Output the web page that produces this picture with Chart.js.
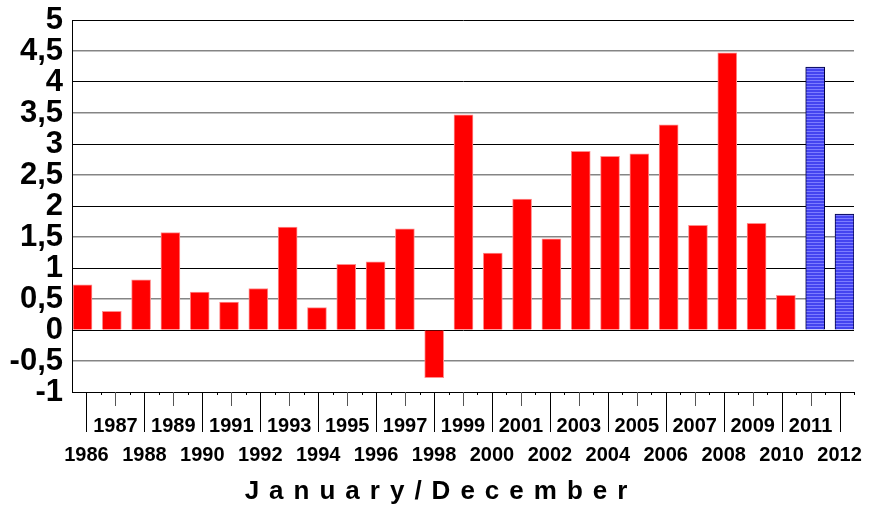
<!DOCTYPE html>
<html>
<head>
<meta charset="utf-8">
<title>January/December</title>
<script src="https://cdn.jsdelivr.net/npm/chart.js@4/dist/chart.umd.min.js"></script>
<style>
  html, body { margin: 0; padding: 0; background: #fff; }
</style>
</head>
<body>
<canvas id="yearChart" width="872" height="508"></canvas>
<script>
// yearly values
const years = ['1986', '1987', '1988', '1989', '1990', '1991', '1992', '1993', '1994',
  '1995', '1996', '1997', '1998', '1999', '2000', '2001', '2002', '2003', '2004',
  '2005', '2006', '2007', '2008', '2009', '2010', '2011', '2012'];
const values = [0.73, 0.30, 0.81, 1.57, 0.61, 0.45, 0.67, 1.66, 0.36,
  1.06, 1.10, 1.63, -0.77, 3.47, 1.24, 2.11, 1.47, 2.88, 2.80,
  2.84, 3.31, 1.69, 4.47, 1.72, 0.56, 4.24, 1.87];
const highlightYears = ['2011', '2012'];
const yTicks = [-1, -0.5, 0, 0.5, 1, 1.5, 2, 2.5, 3, 3.5, 4, 4.5, 5];
const axisTitle = 'January/December';

const FONT = '"Liberation Sans", Arial, sans-serif';
const BAR_MIN = -0.358, BAR_MAX = 26.324;

// striped fill for the last two bars
function stripes() {
  const c = document.createElement('canvas');
  c.width = 4; c.height = 3;
  const g = c.getContext('2d');
  g.fillStyle = '#4444f0';
  g.fillRect(0, 0, 4, 3);
  g.fillStyle = '#7c7cff';
  g.fillRect(0, 2, 4, 1);
  return g.createPattern(c, 'repeat');
}
const stripeFill = stripes();

const isHighlight = i => highlightYears.includes(years[i]);

// tick marks under the axis + the spaced-out title
const axisDecor = {
  id: 'axisDecor',
  afterDraw(chart) {
    const { ctx, chartArea, scales: { x } } = chart;
    const y0 = chartArea.bottom;
    const half = (x.getPixelForValue(1) - x.getPixelForValue(0)) / 2;
    ctx.save();
    ctx.lineWidth = 1;
    years.forEach((yr, i) => {
      const px = Math.round(x.getPixelForValue(i)) + 0.5;
      ctx.strokeStyle = i % 2 ? '#555' : '#000';
      ctx.beginPath();
      ctx.moveTo(px, y0);
      ctx.lineTo(px, y0 + (i % 2 ? 14 : 40));
      ctx.stroke();
      const bx = Math.round(x.getPixelForValue(i) + half) + 0.5;
      ctx.strokeStyle = '#000';
      ctx.beginPath();
      ctx.moveTo(bx, y0);
      ctx.lineTo(bx, y0 + 3);
      ctx.stroke();
    });

    ctx.font = 'bold 26px ' + FONT;
    ctx.letterSpacing = '10px';
    ctx.fillStyle = '#000';
    ctx.textAlign = 'left';
    ctx.textBaseline = 'alphabetic';
    const w = ctx.measureText(axisTitle).width - 10;
    ctx.fillText(axisTitle, chart.width / 2 - w / 2, 499);
    ctx.restore();
  }
};

new Chart(document.getElementById('yearChart'), {
  type: 'bar',
  data: {
    datasets: [{
      data: values.map((v, i) => ({ x: i, y: v })),
      xAxisID: 'xb',
      yAxisID: 'y',
      backgroundColor: values.map((v, i) => isHighlight(i) ? stripeFill : '#ff0000'),
      borderColor: values.map((v, i) => isHighlight(i) ? '#000040' : '#ff8c8c'),
      borderWidth: 1,
      barThickness: 19
    }]
  },
  options: {
    responsive: false,
    animation: false,
    events: [],
    layout: { padding: { top: 20, right: 18, left: 0, bottom: 0 } },
    plugins: { legend: { display: false }, tooltip: { enabled: false } },
    scales: {
      // label axis: years in two rows
      x: {
        type: 'category',
        labels: years,
        position: 'bottom',
        offset: true,
        grid: { display: false, drawTicks: false },
        border: { display: true, color: '#000', width: 1 },
        afterFit: s => { s.height = 116; s.paddingLeft = 0; s.paddingRight = 0; },
        ticks: {
          autoSkip: false,
          maxRotation: 0,
          minRotation: 0,
          padding: 20,
          color: '#000',
          font: { family: FONT, size: 20, weight: 'bold', lineHeight: 1.45 },
          callback: (v, i) => i % 2 ? [years[i], ''] : ['', years[i]]
        }
      },
      // bar axis (hidden), bars sit a little wider than the label slots
      xb: {
        type: 'linear',
        display: false,
        offset: false,
        bounds: 'data',
        min: BAR_MIN,
        max: BAR_MAX,
        afterBuildTicks: s => { s.min = BAR_MIN; s.max = BAR_MAX; }
      },
      y: {
        min: -1,
        max: 5,
        afterFit: s => { s.width = 72; s.paddingTop = 0; s.paddingBottom = 0; },
        afterBuildTicks: s => { s.ticks = yTicks.map(v => ({ value: v })); },
        grid: {
          drawTicks: false,
          color: c => (c.tick && c.tick.value % 1 === 0) ? '#000' : '#858585',
          lineWidth: c => (c.tick && c.tick.value % 1 === 0) ? 1 : 1.5
        },
        border: { display: true, color: '#000', width: 1 },
        ticks: {
          autoSkip: false,
          padding: 9,
          color: '#000',
          font: { family: FONT, size: 31, weight: 'bold' },
          callback: v => String(v).replace('.', ',')
        }
      }
    }
  },
  plugins: [axisDecor]
});
</script>
</body>
</html>
